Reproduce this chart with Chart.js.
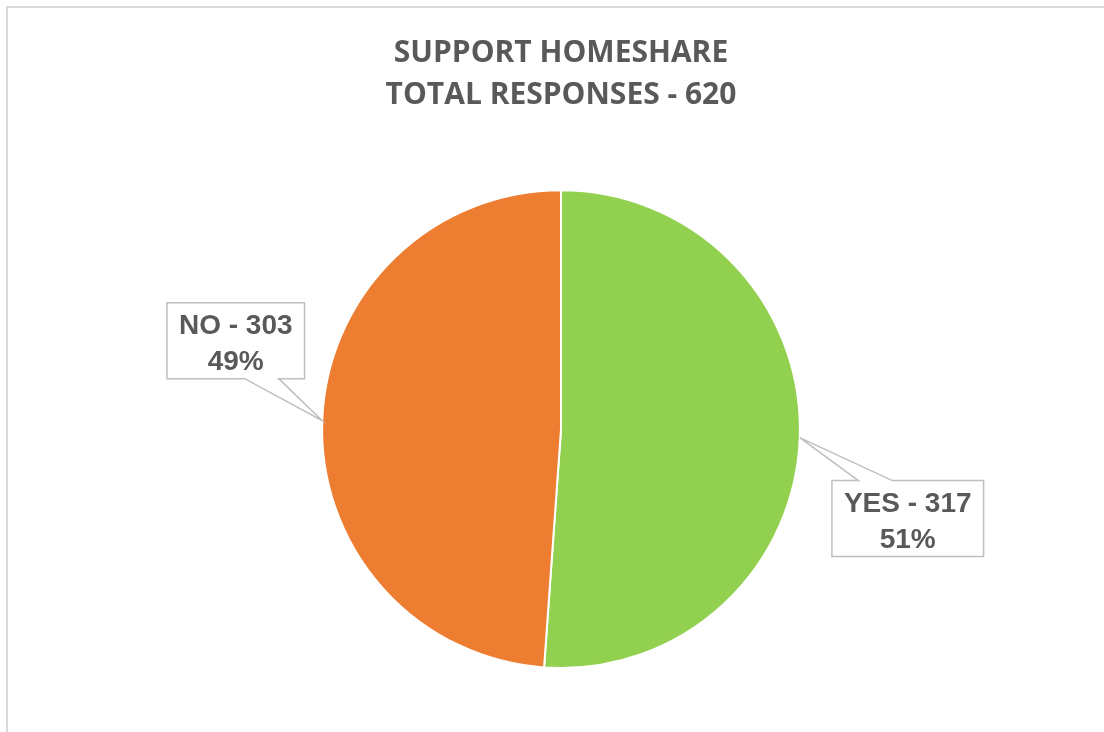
<!DOCTYPE html>
<html lang="en">
<head>
  <meta charset="UTF-8">
  <title>Support Homeshare</title>
  <script src="https://cdn.jsdelivr.net/npm/chart.js"></script>
  <style>
    html, body {
      margin: 0;
      padding: 0;
      background: #fff;
    }
    #wrap {
      position: relative;
      width: 1104px;
      height: 732px;
    }
  </style>
</head>
<body>
<div id="wrap">
  <canvas id="pieChart" width="1104" height="732"></canvas>
</div>

<script>
const categories = ['YES', 'NO'];
const responses = [317, 303];
const sliceColors = ['#92D050', '#ED7D31'];
const titleLine1 = 'SUPPORT HOMESHARE';

const total = responses.reduce((a, b) => a + b, 0);
const textGray = '#595959';

// where each callout box sits, relative to the tip on the slice edge
const calloutOffsets = [
  { dx: 108, dy: 81 },
  { dx: -86.5, dy: -80 }
];

const framePlugin = {
  id: 'frame',
  beforeDraw(chart) {
    const ctx = chart.ctx;
    ctx.save();
    ctx.fillStyle = '#d9d9d9';
    ctx.fillRect(6, 6, chart.width, 2);
    ctx.fillRect(6, 6, 2, chart.height);
    ctx.restore();
  }
};

const calloutPlugin = {
  id: 'callouts',
  afterDatasetsDraw(chart) {
    const ctx = chart.ctx;
    const meta = chart.getDatasetMeta(0);
    ctx.save();
    ctx.font = 'bold 28px "Liberation Sans", Arial, sans-serif';
    meta.data.forEach((arc, i) => {
      const p = arc.getProps(['x', 'y', 'startAngle', 'endAngle', 'outerRadius'], true);
      const mid = (p.startAngle + p.endAngle) / 2;
      const tipX = p.x + Math.cos(mid) * p.outerRadius;
      const tipY = p.y + Math.sin(mid) * p.outerRadius;

      const line1 = categories[i] + ' - ' + responses[i];
      const line2 = Math.round(responses[i] / total * 100) + '%';
      const w = Math.max(ctx.measureText(line1).width, ctx.measureText(line2).width) + 24;
      const h = 76;
      const cx = tipX + calloutOffsets[i].dx;
      const cy = tipY + calloutOffsets[i].dy;
      const left = cx - w / 2, right = cx + w / 2, top = cy - h / 2, bottom = cy + h / 2;

      const gapC = cx + 0.3 * (tipX - cx);
      const g1 = gapC - 17, g2 = gapC + 17;

      ctx.beginPath();
      if (tipY > cy) {
        // pointer out of bottom edge
        ctx.moveTo(left, top);
        ctx.lineTo(right, top);
        ctx.lineTo(right, bottom);
        ctx.lineTo(g2, bottom);
        ctx.lineTo(tipX, tipY);
        ctx.lineTo(g1, bottom);
        ctx.lineTo(left, bottom);
      } else {
        // pointer out of top edge
        ctx.moveTo(left, top);
        ctx.lineTo(g1, top);
        ctx.lineTo(tipX, tipY);
        ctx.lineTo(g2, top);
        ctx.lineTo(right, top);
        ctx.lineTo(right, bottom);
        ctx.lineTo(left, bottom);
      }
      ctx.closePath();
      ctx.fillStyle = '#ffffff';
      ctx.fill();
      ctx.strokeStyle = '#bfbfbf';
      ctx.lineWidth = 1.5;
      ctx.stroke();

      ctx.fillStyle = textGray;
      ctx.textAlign = 'center';
      ctx.textBaseline = 'alphabetic';
      ctx.fillText(line1, cx, cy - 6.5);
      ctx.fillText(line2, cx, cy + 29.5);
    });
    ctx.restore();
  }
};

new Chart(document.getElementById('pieChart'), {
  type: 'pie',
  data: {
    labels: categories,
    datasets: [{
      data: responses,
      backgroundColor: sliceColors,
      borderColor: '#ffffff',
      borderWidth: 2
    }]
  },
  options: {
    responsive: false,
    animation: false,
    events: [],
    layout: {
      padding: { left: 300, right: 282, top: 0, bottom: 63 }
    },
    plugins: {
      legend: { display: false },
      tooltip: { enabled: false },
      title: {
        display: true,
        text: [titleLine1, 'TOTAL RESPONSES - ' + total],
        color: textGray,
        font: { family: '"Open Sans", sans-serif', size: 30, weight: 'bold', lineHeight: 1.42 },
        padding: { top: 32, bottom: 72 }
      }
    }
  },
  plugins: [framePlugin, calloutPlugin]
});
</script>
</body>
</html>
